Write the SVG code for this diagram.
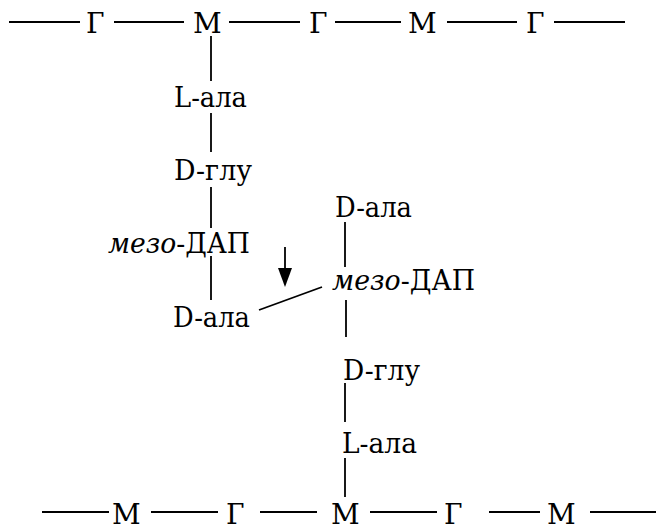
<svg xmlns="http://www.w3.org/2000/svg" width="658" height="531" viewBox="0 0 658 531">
<style>
text{font-family:"DejaVu Serif",serif;font-size:28px;fill:#000}
.it{font-style:italic}
line{stroke:#000;stroke-width:1.8;fill:none}
</style>
<rect width="658" height="531" fill="#fff"/>
<g id="connectors">
<line x1="9" y1="22" x2="80" y2="22"/>
<line x1="114" y1="22" x2="184" y2="22"/>
<line x1="229" y1="22" x2="300" y2="22"/>
<line x1="335" y1="22" x2="401" y2="22"/>
<line x1="447" y1="22" x2="517" y2="22"/>
<line x1="554" y1="22" x2="625" y2="22"/>
<line x1="211" y1="36" x2="211" y2="81"/>
<line x1="211" y1="113" x2="211" y2="152"/>
<line x1="211" y1="187" x2="211" y2="228"/>
<line x1="211" y1="256" x2="211" y2="300"/>
<line x1="259" y1="310" x2="322" y2="287"/>
<line x1="345" y1="222" x2="345" y2="267"/>
<line x1="346" y1="300" x2="346" y2="337"/>
<line x1="345" y1="383" x2="345" y2="422"/>
<line x1="345" y1="458" x2="345" y2="497"/>
<line x1="42" y1="512" x2="109" y2="512"/>
<line x1="151" y1="512" x2="218" y2="512"/>
<line x1="260" y1="512" x2="317" y2="512"/>
<line x1="370" y1="512" x2="437" y2="512"/>
<line x1="489" y1="512" x2="540" y2="512"/>
<line x1="590" y1="512" x2="656" y2="512"/>
<line id="arrow" x1="285" y1="247" x2="285" y2="268"/>
<path d="M278,268 L292,268 L285,287 Z" fill="#000"/>
</g>
<g id="top-G1"><text x="86" y="33">Г</text></g>
<g id="top-M1"><text x="193" y="33">М</text></g>
<g id="top-G2"><text x="309" y="33">Г</text></g>
<g id="top-M2"><text x="408" y="33">М</text></g>
<g id="top-G3"><text x="526" y="33">Г</text></g>
<g id="l-ala-1"><text x="174" y="107" textLength="73" lengthAdjust="spacingAndGlyphs">L-ала</text></g>
<g id="d-glu-1"><text x="174" y="180" textLength="78" lengthAdjust="spacingAndGlyphs">D-глу</text></g>
<g id="dap-1"><text x="108" y="253" textLength="142" lengthAdjust="spacingAndGlyphs"><tspan class="it">мезо</tspan>-ДАП</text></g>
<g id="d-ala-1"><text x="173" y="327" textLength="77" lengthAdjust="spacingAndGlyphs">D-ала</text></g>
<g id="d-ala-2"><text x="335" y="217" textLength="77" lengthAdjust="spacingAndGlyphs">D-ала</text></g>
<g id="dap-2"><text x="332" y="290" textLength="143" lengthAdjust="spacingAndGlyphs"><tspan class="it">мезо</tspan>-ДАП</text></g>
<g id="d-glu-2"><text x="343" y="380" textLength="77" lengthAdjust="spacingAndGlyphs">D-глу</text></g>
<g id="l-ala-2"><text x="342" y="453" textLength="75" lengthAdjust="spacingAndGlyphs">L-ала</text></g>
<g id="bot-M1"><text x="112" y="524">М</text></g>
<g id="bot-G1"><text x="226" y="524">Г</text></g>
<g id="bot-M2"><text x="331" y="524">М</text></g>
<g id="bot-G2"><text x="444" y="524">Г</text></g>
<g id="bot-M3"><text x="547" y="524">М</text></g>
</svg>
